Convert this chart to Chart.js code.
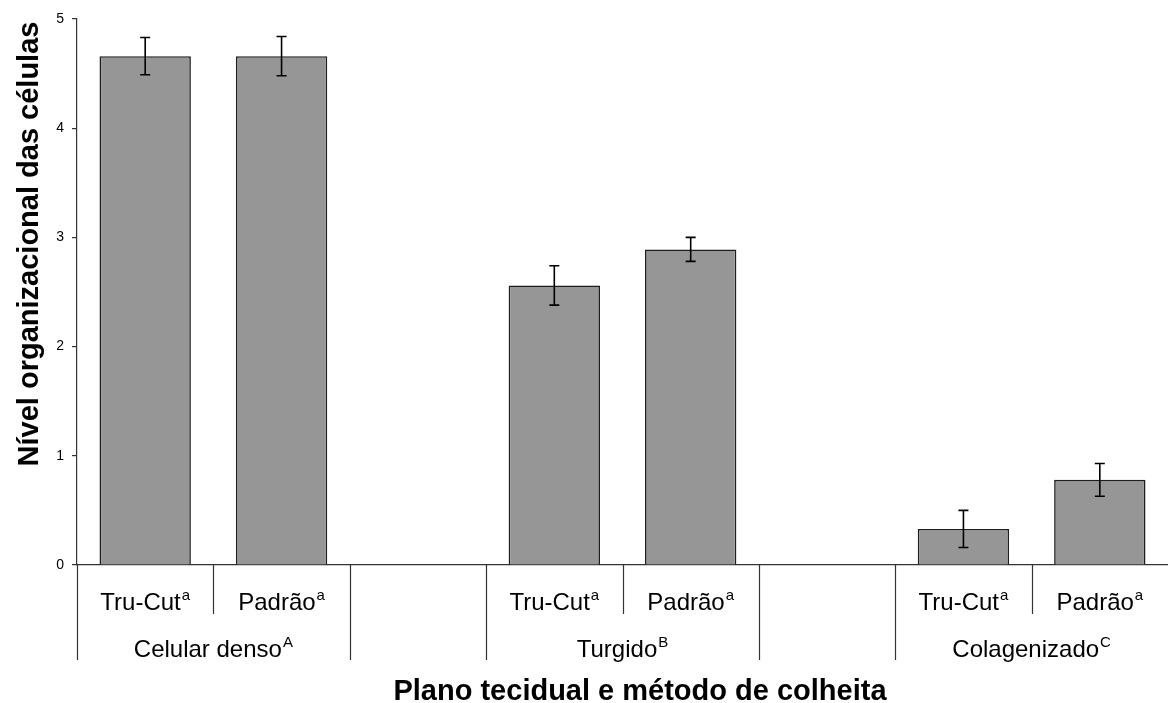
<!DOCTYPE html>
<html>
<head>
<meta charset="utf-8">
<script src="https://cdn.jsdelivr.net/npm/chart.js@4/dist/chart.umd.min.js"></script>
<style>
  html, body { margin: 0; padding: 0; background: #fff; }
  #wrap { width: 1168px; height: 703px; position: relative; }
</style>
</head>
<body>
<div id="wrap"><canvas id="chart"></canvas></div>
<script>
(function () {
  'use strict';

  // --- data ---
  var categories = ['Tru-Cut', 'Padrão', '', 'Tru-Cut', 'Padrão', '', 'Tru-Cut', 'Padrão'];
  var catSup = ['a', 'a', '', 'a', 'a', '', 'a', 'a'];
  var groupOf = [0, 0, null, 1, 1, null, 2, 2];
  var groups = ['Celular denso', 'Turgido', 'Colagenizado'];
  var groupSup = ['A', 'B', 'C'];
  var means = [4.66, 4.66, null, 2.56, 2.89, null, 0.33, 0.78];
  var errors = [0.17, 0.18, null, 0.18, 0.11, null, 0.17, 0.15];
  var yTicks = [0, 1, 2, 3, 4, 5];

  var yTitle = 'Nível organizacional das células';
  var xTitle = 'Plano tecidual e método de colheita';

  var FONT = 'Arial, "Liberation Sans", Helvetica, sans-serif';
  var LINE = '#333';

  function drawSupText(ctx, text, sup, cx, y, size) {
    ctx.font = size + 'px ' + FONT;
    var w1 = ctx.measureText(text).width;
    ctx.font = Math.round(size * 0.62) + 'px ' + FONT;
    var w2 = sup ? ctx.measureText(sup).width + 1 : 0;
    var x0 = cx - (w1 + w2) / 2;
    ctx.textAlign = 'left';
    ctx.textBaseline = 'alphabetic';
    ctx.font = size + 'px ' + FONT;
    ctx.fillText(text, x0, y);
    if (sup) {
      ctx.font = Math.round(size * 0.62) + 'px ' + FONT;
      ctx.fillText(sup, x0 + w1 + 1, y - size * 0.42);
    }
  }

  var errorBars = {
    id: 'errorBars',
    afterDatasetsDraw: function (chart) {
      var ctx = chart.ctx;
      var ys = chart.scales.y;
      var meta = chart.getDatasetMeta(0);
      ctx.save();
      ctx.strokeStyle = '#000';
      ctx.lineWidth = 1.6;
      for (var i = 0; i < means.length; i++) {
        if (means[i] == null) continue;
        var x = meta.data[i].x;
        var top = ys.getPixelForValue(means[i] + errors[i]);
        var bot = ys.getPixelForValue(means[i] - errors[i]);
        ctx.beginPath();
        ctx.moveTo(x, top); ctx.lineTo(x, bot);
        ctx.moveTo(x - 5, top); ctx.lineTo(x + 5, top);
        ctx.moveTo(x - 5, bot); ctx.lineTo(x + 5, bot);
        ctx.stroke();
      }
      ctx.restore();
    }
  };

  // category / group labels, dividers under the axis, axis titles
  var axisDecor = {
    id: 'axisDecor',
    afterDraw: function (chart) {
      var ctx = chart.ctx;
      var xs = chart.scales.x;
      var area = chart.chartArea;
      var base = area.bottom;
      var slot = xs.getPixelForValue(1) - xs.getPixelForValue(0);
      ctx.save();
      ctx.strokeStyle = LINE;
      ctx.lineWidth = 1.2;
      for (var b = 0; b < categories.length; b++) {
        var xb = Math.round(xs.getPixelForValue(b) - slot / 2) + 0.5;
        var inner = b > 0 && groupOf[b - 1] != null && groupOf[b - 1] === groupOf[b];
        ctx.beginPath();
        ctx.moveTo(xb, base);
        ctx.lineTo(xb, inner ? base + 49 : base + 95);
        ctx.stroke();
      }
      ctx.fillStyle = '#000';
      for (var i = 0; i < categories.length; i++) {
        if (!categories[i]) continue;
        drawSupText(ctx, categories[i], catSup[i], xs.getPixelForValue(i), base + 45, 24);
      }
      for (var g = 0; g < groups.length; g++) {
        var first = groupOf.indexOf(g);
        var last = groupOf.lastIndexOf(g);
        var cx = (xs.getPixelForValue(first) + xs.getPixelForValue(last)) / 2;
        drawSupText(ctx, groups[g], groupSup[g], cx, base + 92, 24);
      }

      ctx.font = 'bold 29px ' + FONT;
      ctx.textAlign = 'center';
      ctx.textBaseline = 'alphabetic';
      ctx.fillText(xTitle, 640, 700);

      ctx.translate(38, 244);
      ctx.rotate(-Math.PI / 2);
      ctx.fillText(yTitle, 0, 0);
      ctx.restore();
    }
  };

  new Chart(document.getElementById('chart'), {
    type: 'bar',
    data: {
      labels: categories,
      datasets: [{
        data: means,
        backgroundColor: '#969696',
        borderColor: '#1e1e1e',
        borderWidth: 1.6,
        barPercentage: 0.67,
        categoryPercentage: 1
      }]
    },
    options: {
      responsive: true,
      maintainAspectRatio: false,
      animation: false,
      layout: { padding: { top: 19, left: 0, right: 0, bottom: 0 } },
      plugins: { legend: { display: false }, tooltip: { enabled: false }, title: { display: false } },
      scales: {
        x: {
          ticks: { display: false },
          grid: { display: false },
          border: { display: true, color: LINE, width: 1.2 },
          afterFit: function (s) { s.height = 138; }
        },
        y: {
          min: 0,
          max: 5,
          afterBuildTicks: function (s) { s.ticks = yTicks.map(function (v) { return { value: v }; }); },
          ticks: { color: '#000', font: { family: FONT, size: 14 }, padding: 8 },
          grid: { drawOnChartArea: false, drawTicks: true, tickLength: 5, color: LINE, lineWidth: 1.2 },
          border: { display: true, color: LINE, width: 1.2 },
          afterFit: function (s) { s.width = 77; }
        }
      }
    },
    plugins: [errorBars, axisDecor]
  });
})();
</script>
</body>
</html>
